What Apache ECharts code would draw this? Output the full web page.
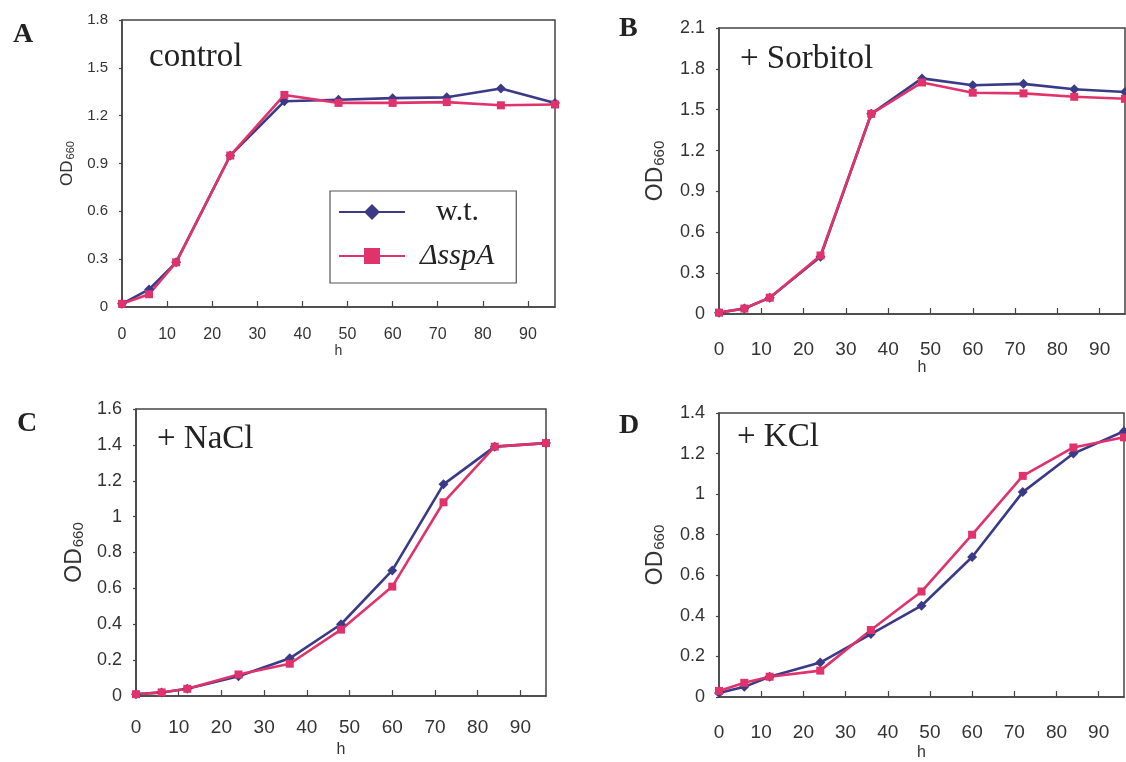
<!DOCTYPE html>
<html>
<head>
<meta charset="utf-8">
<script src="https://cdn.jsdelivr.net/npm/echarts@6/dist/echarts.min.js"></script>
<style>
  html, body { margin: 0; padding: 0; background: #fff; }
  #main { width: 1126px; height: 762px; }
</style>
</head>
<body>
<div id="main"></div>
<script>
// sampling times (h)
const hours = [0, 6, 12, 24, 36, 48, 60, 72, 84, 96]
const xTicks = [0, 10, 20, 30, 40, 50, 60, 70, 80, 90]

// OD660
const controlWt = [0.02, 0.11, 0.28, 0.95, 1.29, 1.30, 1.31, 1.315, 1.37, 1.28]
const controlSsp = [0.02, 0.08, 0.28, 0.95, 1.33, 1.28, 1.28, 1.285, 1.265, 1.27]
const sorbitolWt = [0.01, 0.04, 0.12, 0.42, 1.47, 1.73, 1.68, 1.69, 1.65, 1.63]
const sorbitolSsp = [0.01, 0.04, 0.12, 0.43, 1.47, 1.70, 1.625, 1.62, 1.595, 1.58]
const naclWt = [0.01, 0.02, 0.04, 0.11, 0.21, 0.40, 0.70, 1.18, 1.39, 1.41]
const naclSsp = [0.01, 0.02, 0.04, 0.12, 0.18, 0.37, 0.61, 1.08, 1.39, 1.41]
const kclWt = [0.02, 0.05, 0.10, 0.17, 0.31, 0.45, 0.69, 1.01, 1.20, 1.31]
const kclSsp = [0.03, 0.07, 0.10, 0.13, 0.33, 0.52, 0.80, 1.09, 1.23, 1.28]

const panelLetters = ['A', 'B', 'C', 'D']
const panelTitles = ['control', '+ Sorbitol', '+ NaCl', '+ KCl']
const yMaxes = [1.8, 2.1, 1.6, 1.4]
const yIntervals = [0.3, 0.3, 0.2, 0.2]

const WT_COLOR = '#3a3a88'
const SSP_COLOR = '#e0336b'
const AXIS_COLOR = '#444'
const SANS = 'Liberation Sans, Arial, sans-serif'
const SERIF = 'Liberation Serif, Times New Roman, serif'

// layout of the four plot boxes
const grids = [
  { left: 122, top: 20, width: 433, height: 287 },
  { left: 719, top: 28, width: 406, height: 286 },
  { left: 136, top: 409, width: 410, height: 287 },
  { left: 719, top: 413, width: 405, height: 286 }
]
const small = [true, false, false, false]
const yNameGap = [46, 52, 50, 52]
const xNameGap = [36, 44, 46, 48]
const xLabelMargin = [20, 26, 22, 26]
const letterPos = [[13, 21], [619, 15], [17, 410], [619, 412]]
const titlePos = [[149, 41], [740, 43], [157, 423], [737, 421]]

const seriesData = [
  [controlWt, controlSsp],
  [sorbitolWt, sorbitolSsp],
  [naclWt, naclSsp],
  [kclWt, kclSsp]
]

function pairs (ys) {
  return hours.map((h, i) => [h, ys[i]])
}

let option = {
  backgroundColor: '#fff',
  animation: false,
  title: [],
  grid: [],
  xAxis: [],
  yAxis: [],
  series: [],
  legend: {
    orient: 'vertical',
    left: 330,
    top: 191,
    padding: [6, 22, 12, 8],
    itemGap: 14,
    itemWidth: 66,
    itemHeight: 20,
    borderColor: '#555',
    borderWidth: 1.2,
    backgroundColor: '#fff',
    textStyle: { fontFamily: SERIF, fontSize: 30, color: '#222' },
    data: [
      { name: 'w.t.', textStyle: { padding: [0, 0, 0, 26] } },
      { name: 'ΔsspA', textStyle: { fontStyle: 'italic', padding: [0, 0, 0, 10] } }
    ]
  }
}

grids.forEach((g, i) => {
  option.grid.push(Object.assign({
    show: true,
    borderColor: AXIS_COLOR,
    borderWidth: 1.5,
    backgroundColor: 'transparent'
  }, g))

  option.title.push({
    text: panelLetters[i],
    left: letterPos[i][0],
    top: letterPos[i][1],
    padding: 0,
    textStyle: { fontFamily: SERIF, fontWeight: 'bold', fontSize: 28, color: '#222' }
  })
  option.title.push({
    text: panelTitles[i],
    left: titlePos[i][0],
    top: titlePos[i][1],
    padding: 0,
    textStyle: { fontFamily: SERIF, fontWeight: 'normal', fontSize: 33, color: '#222' }
  })

  let labelSize = small[i] ? 15 : 18
  option.xAxis.push({
    type: 'value',
    gridIndex: i,
    min: 0,
    max: 96,
    interval: 10,
    name: 'h',
    nameLocation: 'middle',
    nameGap: xNameGap[i],
    nameTextStyle: { fontFamily: SANS, fontSize: small[i] ? 14 : 16, color: '#333' },
    axisLine: { lineStyle: { color: AXIS_COLOR, width: 1.5 } },
    axisTick: { inside: true, length: 6, lineStyle: { color: AXIS_COLOR, width: 1.2 } },
    axisLabel: {
      showMaxLabel: false,
      margin: xLabelMargin[i],
      fontFamily: SANS,
      fontSize: labelSize + 1,
      color: '#333',
      formatter: (v) => (xTicks.indexOf(v) >= 0 ? String(v) : '')
    },
    splitLine: { show: false }
  })

  option.yAxis.push({
    type: 'value',
    gridIndex: i,
    min: 0,
    max: yMaxes[i],
    interval: yIntervals[i],
    name: '{a|OD}{b|660}',
    nameLocation: 'middle',
    nameGap: yNameGap[i],
    nameRotate: 90,
    nameTextStyle: {
      color: '#333',
      rich: {
        a: { fontFamily: SANS, fontSize: small[i] ? 17 : 23, color: '#333', lineHeight: small[i] ? 24 : 32, verticalAlign: 'bottom' },
        b: { fontFamily: SANS, fontSize: small[i] ? 11 : 15, color: '#333', lineHeight: small[i] ? 11 : 15, verticalAlign: 'bottom', padding: [0, 0, 0, 1] }
      }
    },
    axisLine: { show: true, lineStyle: { color: AXIS_COLOR, width: 1.5 } },
    axisTick: { show: true, inside: false, length: 3, lineStyle: { color: AXIS_COLOR, width: 1.2 } },
    axisLabel: {
      margin: 14,
      fontFamily: SANS,
      fontSize: labelSize,
      color: '#333',
      formatter: (v) => String(Math.round(v * 10) / 10)
    },
    splitLine: { show: false }
  })

  const [wt, ssp] = seriesData[i]
  option.series.push({
    name: 'w.t.',
    type: 'line',
    xAxisIndex: i,
    yAxisIndex: i,
    data: pairs(wt),
    symbol: 'diamond',
    symbolSize: 10,
    clip: false,
    itemStyle: { color: WT_COLOR },
    lineStyle: { color: WT_COLOR, width: 2.6 }
  })
  option.series.push({
    name: 'ΔsspA',
    type: 'line',
    xAxisIndex: i,
    yAxisIndex: i,
    data: pairs(ssp),
    symbol: 'rect',
    symbolSize: 8,
    clip: false,
    itemStyle: { color: SSP_COLOR },
    lineStyle: { color: SSP_COLOR, width: 2.6 }
  })
})

let myChart = echarts.init(document.getElementById('main'))
myChart.setOption(option)
</script>
</body>
</html>
